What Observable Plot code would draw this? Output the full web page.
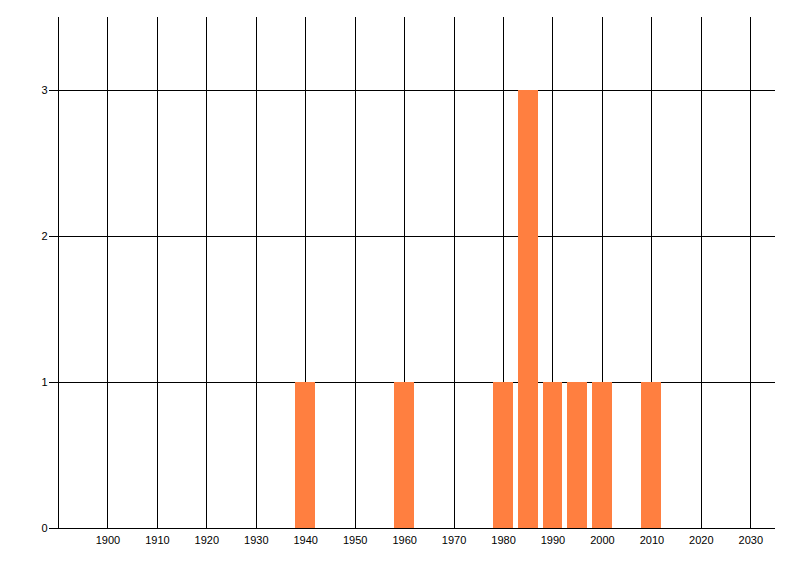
<!DOCTYPE html>
<html>
<head>
<meta charset="utf-8">
<script src="https://cdn.jsdelivr.net/npm/d3@7"></script>
<script src="https://cdn.jsdelivr.net/npm/@observablehq/plot@0.6"></script>
<style>
  html, body { margin: 0; padding: 0; background: #fff; }
  #chart { width: 800px; height: 576px; }
</style>
</head>
<body>
<div id="chart"></div>
<script>
const years = [1940, 1960, 1980, 1985, 1990, 1995, 2000, 2010];
const counts = [1, 1, 1, 3, 1, 1, 1, 1];
const xTicks = [1900, 1910, 1920, 1930, 1940, 1950, 1960, 1970, 1980, 1990, 2000, 2010, 2020, 2030];
const yTicks = [0, 1, 2, 3];
const xDomain = [1890, 2035];
const yDomain = [0, 3.5];
const barHalf = 2;

const data = years.map((y, i) => ({year: y, count: counts[i]}));

const chart = Plot.plot({
  width: 800,
  height: 576,
  marginLeft: 58,
  marginRight: 25,
  marginTop: 17,
  marginBottom: 48,
  style: {fontFamily: "'Liberation Sans', Arial, sans-serif", fontSize: "11px", color: "#000", background: "#fff"},
  x: {domain: xDomain, label: null},
  y: {domain: yDomain, label: null},
  marks: [
    Plot.ruleX([xDomain[0], ...xTicks], {y1: yDomain[0], y2: yDomain[1], stroke: "#000", strokeWidth: 1, shapeRendering: "crispEdges"}),
    Plot.ruleY(yTicks, {x1: xDomain[0], x2: xDomain[1], stroke: "#000", strokeWidth: 1, shapeRendering: "crispEdges"}),
    Plot.rectY(data, {x1: d => d.year - barHalf, x2: d => d.year + barHalf, y1: 0, y2: "count", fill: "#ff7f40", shapeRendering: "crispEdges"}),
    Plot.axisX({ticks: xTicks, tickFormat: d => String(d), tickSize: 0, tickPadding: 8, label: null}),
    Plot.axisY({ticks: yTicks, tickFormat: d => String(d), tickSize: 9, tickPadding: 2, stroke: "#000", label: null, shapeRendering: "crispEdges"})
  ]
});
document.getElementById("chart").appendChild(chart);
</script>
</body>
</html>
